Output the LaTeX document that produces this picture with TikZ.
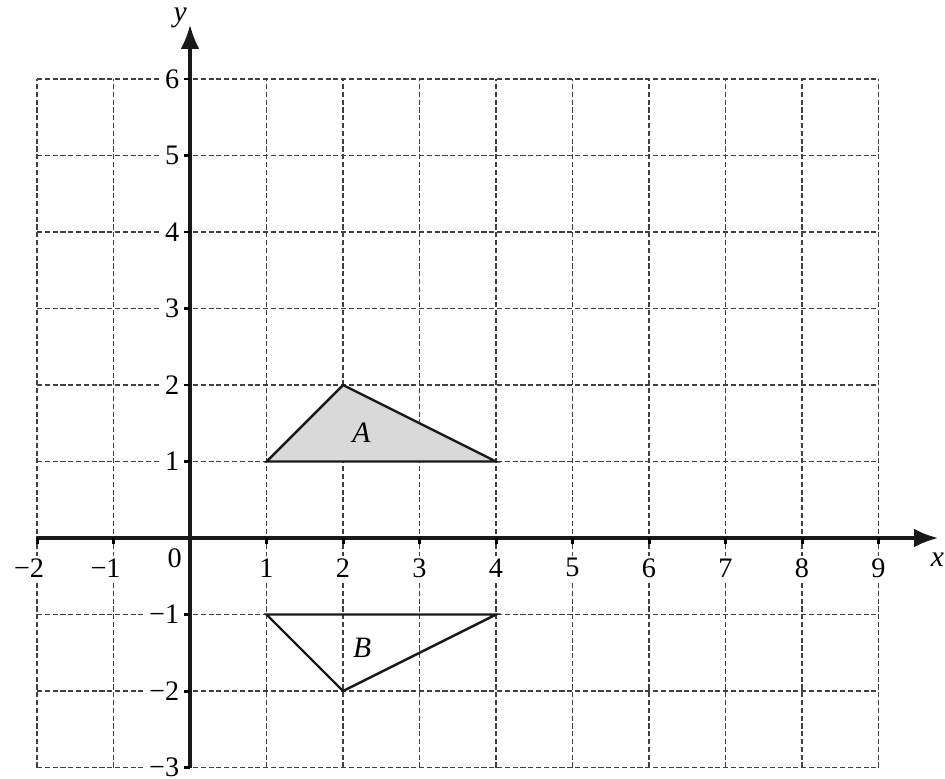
\documentclass[tikz,border=0pt]{standalone}
\usepackage{fontspec}
\setmainfont{Liberation Serif}
\usetikzlibrary{arrows.meta}
\begin{document}
\begin{tikzpicture}[x=1cm,y=1cm,
  gridline/.style={line width=0.5pt, dash pattern=on 1.9pt off 1pt, black!75},
  axisline/.style={line width=1.2pt, black!90},
  tri/.style={line width=0.9pt, black!90, line join=miter},
  lbl/.style={font=\fontsize{10.5}{11}\selectfont, fill=white, inner sep=1pt},
  varlbl/.style={font=\fontsize{11}{12}\selectfont\itshape, inner sep=0pt}]
\useasboundingbox (-2.484,-3.150) rectangle (9.869,7.033);
% grid
\foreach \x in {-2,...,9} \draw[gridline] (\x,-3) -- (\x,6);
\foreach \y in {-3,...,6} \draw[gridline] (-2,\y) -- (9,\y);
% triangles
\coordinate (a1) at (1,1); \coordinate (a2) at (2,2); \coordinate (a3) at (4,1);
\coordinate (b1) at (1,-1); \coordinate (b2) at (4,-1); \coordinate (b3) at (2,-2);
\fill[black!15] (a1) -- (a2) -- (a3) -- cycle;
\draw[tri] (a1) -- (a2) -- (a3) -- cycle;
\draw[tri] (b1) -- (b2) -- (b3) -- cycle;
\node[varlbl] (lA) at (2.24,1.37) {A};
\node[varlbl] (lB) at (2.25,-1.44) {B};
% tick labels
\foreach \x in {1,...,9} \node[lbl] (xl\x) at (\x,-0.39) {\x};
\node[lbl] (xlm1) at (-1,-0.39) {\llap{−}1};
\node[lbl] (xlm2) at (-2,-0.39) {\llap{−}2};
\node[lbl, fill=none] (zero) at (-0.2,-0.26) {0};
\foreach \y in {1,...,6} \node[lbl, anchor=east] (yl\y) at (-0.1,\y) {\y};
\foreach \y in {1,2,3} \node[lbl, anchor=east] (ylm\y) at (-0.1,-\y) {−\y};
% axes
\coordinate (xs) at (-2,0); \coordinate (xe) at (9.78,0);
\coordinate (ys) at (0,-3); \coordinate (ye) at (0,6.71);
\draw[axisline, -{Latex[length=9pt,width=7pt]}] (xs) -- (xe);
\draw[axisline, -{Latex[length=9pt,width=7pt]}] (ys) -- (ye);
\foreach \x in {-2,-1,1,2,...,9} \draw[line width=1.1pt] (\x,0) -- (\x,-0.08);
\foreach \y in {-3,-2,-1,1,2,...,6} \draw[line width=1.1pt] (0,\y) -- (-0.08,\y);
\node[varlbl] (xlab) at (9.77,-0.29) {x};
\node[varlbl] (ylab) at (-0.13,6.8) {y};
\end{tikzpicture}
\end{document}
